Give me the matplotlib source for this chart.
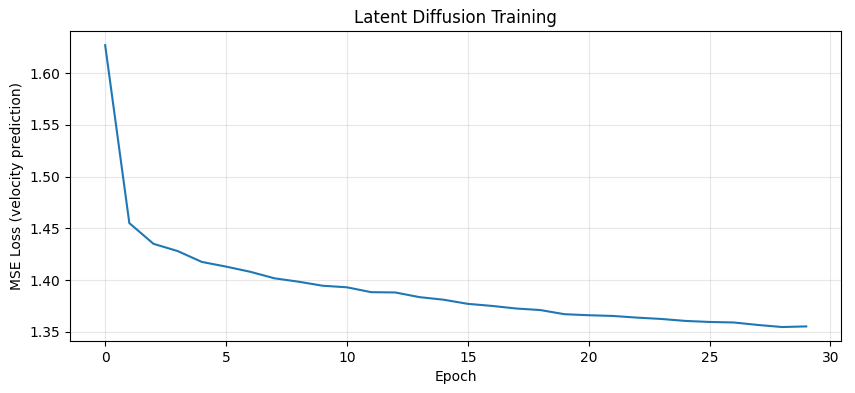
import matplotlib
matplotlib.use("Agg")
import matplotlib.pyplot as plt

# Perdida por epoca
epocas = list(range(30))
perdida = [1.627, 1.455, 1.435, 1.428, 1.4175, 1.413, 1.408, 1.4017, 1.3984, 1.3945,
           1.393, 1.3883, 1.388, 1.3835, 1.381, 1.377, 1.375, 1.3725, 1.371, 1.367,
           1.366, 1.3653, 1.3637, 1.3624, 1.3605, 1.3595, 1.359, 1.3566, 1.3546, 1.3552]

fig, ax = plt.subplots(figsize=(8.55, 3.93), dpi=100)
ax.plot(epocas, perdida, color="#1f77b4", linewidth=1.5)
ax.set_title("Latent Diffusion Training")
ax.set_xlabel("Epoch")
ax.set_ylabel("MSE Loss (velocity prediction)")
ax.grid(True, alpha=0.3)
fig.subplots_adjust(left=0.082, right=0.984, top=0.921, bottom=0.132)
fig.savefig("out.png", dpi=100)
plt.close(fig)
